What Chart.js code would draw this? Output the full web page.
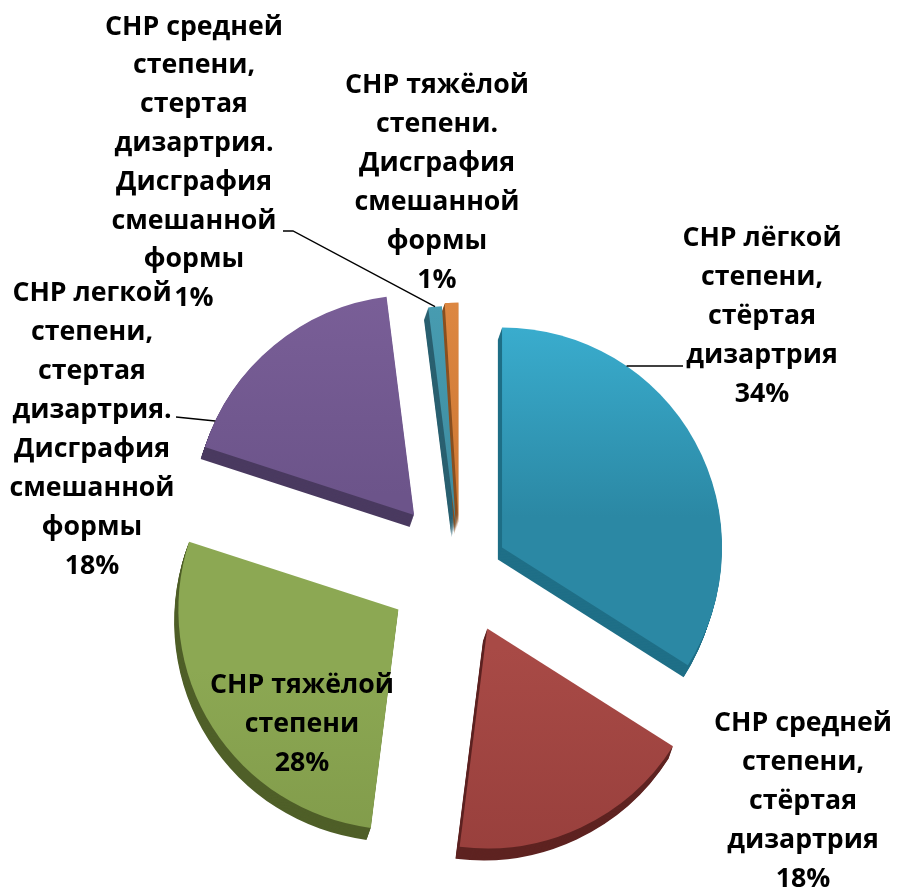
<!DOCTYPE html>
<html><head><meta charset="utf-8">
<script src="https://cdn.jsdelivr.net/npm/chart.js@4.4.1/dist/chart.umd.min.js"></script>
<style>html,body{margin:0;padding:0;background:#fff}#wrap{width:898px;height:891px;position:relative}</style>
</head><body><div id="wrap"><canvas id="c" width="898" height="891"></canvas></div>
<script>
// ---- data ----
const categories = [
  "СНР лёгкой\nстепени,\nстёртая\nдизартрия",
  "СНР средней\nстепени,\nстёртая\nдизартрия",
  "СНР тяжёлой\nстепени",
  "СНР легкой\nстепени,\nстертая\nдизартрия.\nДисграфия\nсмешанной\nформы",
  "СНР средней\nстепени,\nстертая\nдизартрия.\nДисграфия\nсмешанной\nформы",
  "СНР тяжёлой\nстепени.\nДисграфия\nсмешанной\nформы"
];
const values = [34, 18, 28, 18, 1, 1];

// ---- styles ----
const topColors = [['#3cb2d4','#2b88a4'],['#a84a46','#963e3b'],['#8ca853','#7f9949'],['#7a5f98','#6c548a'],['#4aa0b5','#3f8ea2'],['#e08b45','#d07a35']];
const gradRange = [[320,540],[590,830],[630,840],[340,550],[300,520],[300,520]];
const sideColors = ['#1f6f87','#5e2321','#4f5f28','#4a3a60','#2a6070','#8a5020'];
const explode = [48, 64, 73, 72, 45, 48];
const DEPTH = 12;
const labelPos = [
  {x:762, y:238, lh:39},
  {x:803, y:723, lh:39},
  {x:302, y:685, lh:39},
  {x:92,  y:293, lh:39},
  {x:194, y:27,  lh:38.8},
  {x:437, y:85,  lh:39}
];

function arcOffset(arc, i){
  const h = (arc.startAngle + arc.endAngle) / 2;
  return {dx: Math.cos(h) * explode[i], dy: Math.sin(h) * explode[i]};
}

const explodePlugin = {
  id: 'explode3d',
  beforeDatasetDraw(chart, args){
    const c = chart.ctx;
    const meta = chart.getDatasetMeta(args.index);
    // side (depth) faces first
    meta.data.forEach((arc, i) => {
      const o = arcOffset(arc, i);
      const proxy = Object.create(arc);
      proxy.options = Object.assign({}, arc.options, {backgroundColor: sideColors[i], borderWidth: 0});
      for (let d = DEPTH; d >= 1; d--) {
        c.save();
        c.translate(o.dx - 0.35 * d, o.dy + d);
        proxy.draw(c);
        c.restore();
      }
    });
    // top faces
    meta.data.forEach((arc, i) => {
      const o = arcOffset(arc, i);
      c.save();
      c.translate(o.dx, o.dy);
      arc.draw(c);
      c.restore();
    });
    return false;
  }
};

const labelPlugin = {
  id: 'labels',
  afterDatasetsDraw(chart){
    const c = chart.ctx;
    const meta = chart.getDatasetMeta(0);
    const total = values.reduce((a,b)=>a+b,0);
    c.save();
    c.font = 'bold 100px "Open Sans"';
    const fs = 100 * 178 / c.measureText('СНР средней').width;
    c.font = 'bold ' + fs.toFixed(2) + 'px "Open Sans"';
    c.fillStyle = '#000';
    c.textAlign = 'center';
    c.textBaseline = 'middle';

    // leader lines
    c.strokeStyle = '#000';
    c.lineWidth = 1.4;
    const geo = meta.data.map((arc, i) => {
      const o = arcOffset(arc, i);
      return {cx: arc.x + o.dx, cy: arc.y + o.dy, r: arc.outerRadius, s: arc.startAngle, e: arc.endAngle};
    });
    // blue: horizontal to the right side of the arc
    {
      const g = geo[0], y = 366;
      const x = g.cx + Math.sqrt(g.r*g.r - (y-g.cy)*(y-g.cy));
      c.beginPath(); c.moveTo(683, y); c.lineTo(x, y); c.stroke();
    }
    // purple: to the left side of the arc
    {
      const g = geo[3], y = 421;
      const x = g.cx - Math.sqrt(g.r*g.r - (y-g.cy)*(y-g.cy));
      c.beginPath(); c.moveTo(176, 417); c.lineTo(x, y); c.stroke();
    }
    // teal: elbow to the arc middle
    {
      const g = geo[4], h = (g.s + g.e) / 2;
      const x = g.cx + Math.cos(h) * g.r, y = g.cy + Math.sin(h) * g.r;
      c.beginPath(); c.moveTo(283, 231); c.lineTo(293, 231); c.lineTo(x, y); c.stroke();
    }

    categories.forEach((cat, i) => {
      const lines = cat.split('\n');
      lines.push(Math.round(values[i] / total * 100) + '%');
      const p = labelPos[i];
      lines.forEach((t, k) => c.fillText(t, p.x, p.y + k * p.lh));
    });
    c.restore();
  }
};

new Chart(document.getElementById('c'), {
  type: 'pie',
  data: {
    labels: categories,
    datasets: [{
      data: values,
      backgroundColor: (ctx) => {
        const i = ctx.dataIndex;
        const cc = topColors[i];
        if (!ctx.chart.chartArea) return cc[0];
        const g = ctx.chart.ctx.createLinearGradient(0, gradRange[i][0], 0, gradRange[i][1]);
        g.addColorStop(0, cc[0]); g.addColorStop(1, cc[1]);
        return g;
      },
      borderWidth: 0,
      offset: 0,
      hoverOffset: 0
    }]
  },
  options: {
    responsive: false,
    animation: false,
    events: [],
    radius: 220,
    rotation: 0,
    layout: {padding: {left: 22, top: 250}},
    plugins: {legend: {display: false}, tooltip: {enabled: false}}
  },
  plugins: [explodePlugin, labelPlugin]
});
</script>
</body></html>
